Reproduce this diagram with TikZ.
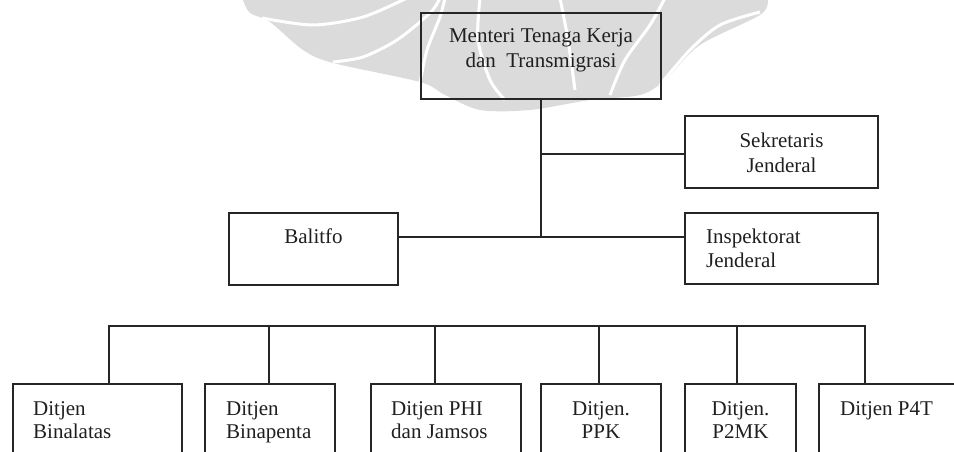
\documentclass[tikz,border=0pt]{standalone}
\usepackage{fontspec}
\setmainfont{Liberation Serif}
\colorlet{ln}{black!85}
\begin{document}
\begin{tikzpicture}[x=1pt,y=-1pt,
  box/.style={draw=ln, line width=1.3pt, rectangle, inner sep=0pt},
  conn/.style={draw=ln, line width=1.3pt},
  txt/.style={inner sep=0pt, font=\fontsize{21}{24}\selectfont, text=black!88},
  wm/.style={fill=black!14},
  wmline/.style={draw=white, line width=3pt}]
\useasboundingbox (0,0) rectangle (954,452);
\clip (0,0) rectangle (954,452);
% watermark
\fill[wm] plot[smooth] coordinates {(243,0) (250,13) (270,22) (303,50) (333,63) (420,82) (445,95) (480,110) (530,110) (590,100) (640,95) (665,80) (700,45) (760,15) (768,0)} -- cycle;
\draw[wmline] plot[smooth] coordinates {(262,18) (313,25) (363,17) (407,-2)};
\draw[wmline] plot[smooth] coordinates {(333,62) (363,57) (397,40) (430,13) (440,-2)};
\draw[wmline] plot[smooth] coordinates {(420,83) (427,50) (440,17) (445,-2)};
\draw[wmline] plot[smooth] coordinates {(480,-2) (478,40) (490,80) (505,100)};
\draw[wmline] plot[smooth] coordinates {(560,-2) (568,40) (575,90)};
\draw[wmline] plot[smooth] coordinates {(610,95) (625,60) (650,25) (665,-2)};
\draw[wmline] plot[smooth] coordinates {(660,85) (690,50) (720,25) (760,12)};
% boxes
\node[box, minimum width=240pt, minimum height=86pt] (top) at (541,56) {};
\node[box, minimum width=193pt, minimum height=72pt] (sek) at (781.5,152) {};
\node[box, minimum width=169pt, minimum height=72pt] (bal) at (313.5,249) {};
\node[box, minimum width=193pt, minimum height=71pt] (insp) at (781.5,248.5) {};
\node[box, minimum width=169pt, minimum height=116pt] (b1) at (97.5,442) {};
\node[box, minimum width=130pt, minimum height=116pt] (b2) at (270,442) {};
\node[box, minimum width=150pt, minimum height=116pt] (b3) at (446,442) {};
\node[box, minimum width=120pt, minimum height=116pt] (b4) at (601,442) {};
\node[box, minimum width=111pt, minimum height=116pt] (b5) at (740.5,442) {};
\node[box, minimum width=181pt, minimum height=116pt] (b6) at (909.5,442) {};
% connectors
\coordinate (j1) at (541,154);
\coordinate (j2) at (541,237);
\draw[conn] (top.south) -- (j2);
\draw[conn] (j1) -- (j1 -| sek.west);
\draw[conn] (j2 -| bal.east) -- (j2 -| insp.west);
\coordinate (d1) at (109,326);
\coordinate (d2) at (269,326);
\coordinate (d3) at (435,326);
\coordinate (d4) at (599,326);
\coordinate (d5) at (737,326);
\coordinate (d6) at (865,326);
\draw[conn] (d1 |- b1.north) -- (d1) -- (d6) -- (d6 |- b6.north);
\draw[conn] (d2) -- (d2 |- b2.north);
\draw[conn] (d3) -- (d3 |- b3.north);
\draw[conn] (d4) -- (d4 |- b4.north);
\draw[conn] (d5) -- (d5 |- b5.north);
% texts
\node[txt, anchor=base] (topa) at (541,43) {Menteri Tenaga Kerja};
\node[txt, anchor=base] (topb) at (541,67) {dan\ \ Transmigrasi};
\node[txt, anchor=base] (seka) at (781.5,147) {Sekretaris};
\node[txt, anchor=base] (sekb) at (781.5,172) {Jenderal};
\node[txt, anchor=base] (bala) at (313.5,243) {Balitfo};
\node[txt, anchor=base west] (inspa) at (706,243) {Inspektorat};
\node[txt, anchor=base west] (inspb) at (706,267) {Jenderal};
\node[txt, anchor=base west] (b1a) at (33,415) {Ditjen};
\node[txt, anchor=base west] (b1b) at (33,438) {Binalatas};
\node[txt, anchor=base west] (b2a) at (226,415) {Ditjen};
\node[txt, anchor=base west] (b2b) at (226,438) {Binapenta};
\node[txt, anchor=base west] (b3a) at (391,415) {Ditjen PHI};
\node[txt, anchor=base west] (b3b) at (391,438) {dan Jamsos};
\node[txt, anchor=base] (b4a) at (601,415) {Ditjen.};
\node[txt, anchor=base] (b4b) at (601,438) {PPK};
\node[txt, anchor=base] (b5a) at (740.5,415) {Ditjen.};
\node[txt, anchor=base] (b5b) at (740.5,438) {P2MK};
\node[txt, anchor=base west] (b6a) at (840,415) {Ditjen P4T};
\end{tikzpicture}
\end{document}
